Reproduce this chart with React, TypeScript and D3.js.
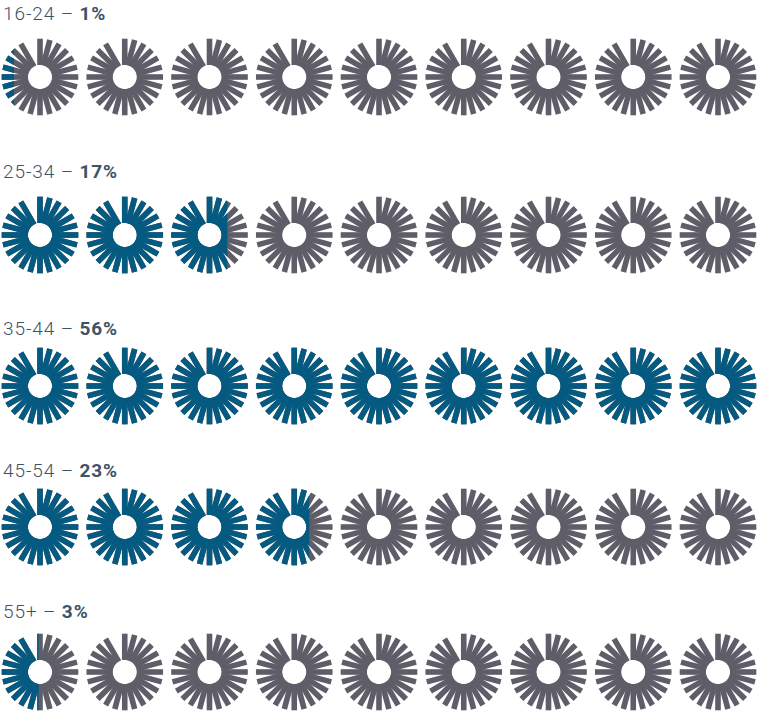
import React from "react";
import * as d3 from "d3";

const groups = ["16-24", "25-34", "35-44", "45-54", "55+"];
const percents = [1, 17, 56, 23, 3];
const iconsPerRow = 9;
const maxPercent = 56;

const W = 760;
const H = 713;
const GRAY = "#5f5e68";
const BLUE = "#045a80";
const TEXT = "#3d5366";

const labelY = [20, 178, 335, 477, 618];
const iconY = [77, 235, 386, 527, 672];
const R = 38.3;
const R0 = 12;
const SPOKE_W = 5.6;

const spokeAngles = d3.range(24).filter((i) => i !== 23).map((i) => i * 15);

function Icon({ cx, cy, frac, id }: { cx: number; cy: number; frac: number; id: string }) {
  const spokes = (fill: string) =>
    spokeAngles.map((a) => (
      <rect
        key={a}
        x={-SPOKE_W / 2}
        y={-R}
        width={SPOKE_W}
        height={R - R0}
        fill={fill}
        transform={`rotate(${a})`}
      />
    ));
  const clipW = Math.max(0, Math.min(1, frac)) * 2 * R;
  return (
    <g transform={`translate(${cx},${cy})`}>
      <defs>
        <clipPath id={id}>
          <rect x={-R - 1} y={-R - 2} width={clipW + (frac >= 1 ? 2 : 1)} height={2 * R + 4} />
        </clipPath>
      </defs>
      <g>{spokes(GRAY)}</g>
      {frac > 0 && <g clipPath={`url(#${id})`}>{spokes(BLUE)}</g>}
    </g>
  );
}

export default function App() {
  const x = d3.scaleLinear().domain([0, iconsPerRow - 1]).range([40, 718]);
  const unit = d3.scaleLinear().domain([0, maxPercent]).range([0, iconsPerRow]);
  return (
    <svg width={W} height={H} style={{ position: "absolute", left: 0, top: 0 }}>
      <rect width={W} height={H} fill="#fff" />
      {groups.map((g, r) => {
        const filled = unit(percents[r]);
        return (
          <g key={g}>
            <text
              x={3}
              y={labelY[r]}
              fontFamily="Roboto, 'Noto Sans', sans-serif"
              fontSize={19}
              letterSpacing={0.9}
              fill={TEXT}
            >
              <tspan fontWeight={300}>{`${g} – `}</tspan>
              <tspan fontWeight={700}>{`${percents[r]}%`}</tspan>
            </text>
            {d3.range(iconsPerRow).map((i) => (
              <Icon
                key={i}
                cx={x(i)}
                cy={iconY[r]}
                frac={filled - i}
                id={`clip-${r}-${i}`}
              />
            ))}
          </g>
        );
      })}
    </svg>
  );
}
